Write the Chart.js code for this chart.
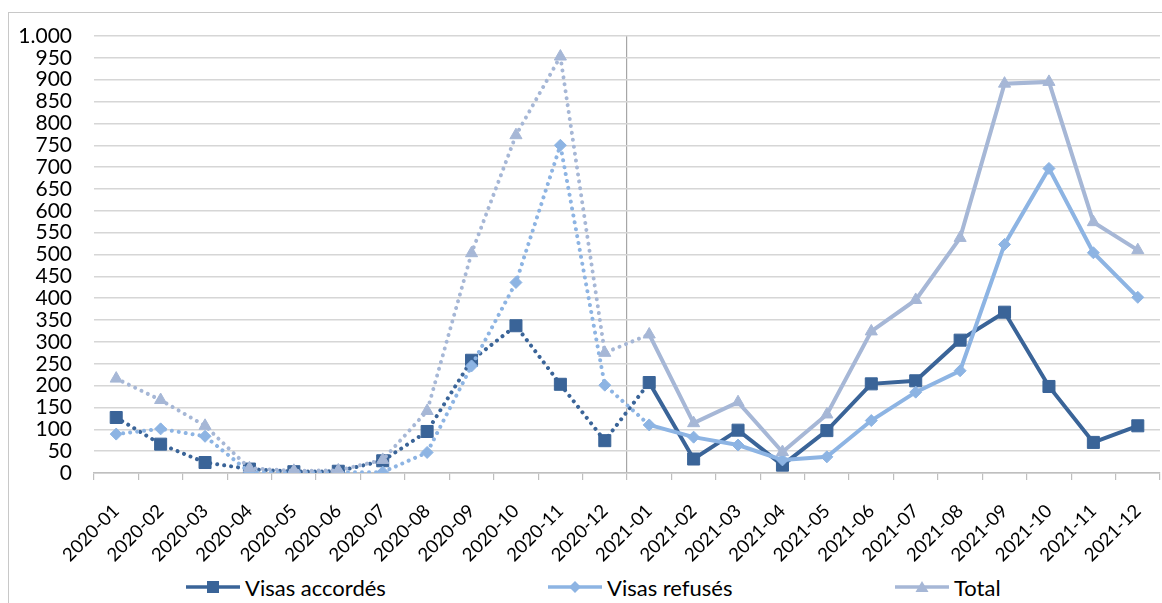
<!DOCTYPE html>
<html>
<head>
<meta charset="utf-8">
<script src="https://cdn.jsdelivr.net/npm/chart.js@4.4.1/dist/chart.umd.min.js"></script>
<style>
  body { margin: 0; width: 1162px; height: 603px; overflow: hidden; position: relative; background: #fff; font-family: Lato, "Noto Sans", sans-serif; }
  #frame { position: absolute; left: 8px; top: 12px; width: 1170px; height: 620px; border-left: 1px solid #c8c8c8; border-top: 1px solid #c8c8c8; }
  #wrap { position: absolute; left: 8px; top: 12px; width: 1154px; height: 560px; }
  .leg { position: absolute; top: 574px; height: 26px; display: flex; align-items: center; font-size: 22px; color: #000; white-space: nowrap; }
  .leg svg { margin-right: 5px; }
</style>
</head>
<body>
<div id="frame"></div>
<div id="wrap"><canvas id="visaChart"></canvas></div>
<div id="legend"></div>
<script>
// months on the x-axis
const months = ['2020-01', '2020-02', '2020-03', '2020-04', '2020-05', '2020-06',
    '2020-07', '2020-08', '2020-09', '2020-10', '2020-11', '2020-12',
    '2021-01', '2021-02', '2021-03', '2021-04', '2021-05', '2021-06',
    '2021-07', '2021-08', '2021-09', '2021-10', '2021-11', '2021-12'];

// visas granted per month
const visasAccordes = [127, 66, 24, 9, 3, 4, 28, 95, 258, 337, 203, 74,
    207, 32, 98, 18, 97, 204, 211, 304, 368, 198, 70, 108];

// visas refused per month
const visasRefuses = [89, 101, 84, 2, 2, 2, 2, 47, 245, 436, 750, 201,
    110, 82, 64, 30, 37, 120, 185, 234, 523, 697, 504, 402];

// total per month
const visasTotal = [216, 167, 108, 11, 5, 6, 30, 142, 503, 773, 953, 275,
    317, 114, 162, 48, 134, 324, 396, 538, 891, 895, 574, 510];

// series names
const seriesNames = ['Visas accordés', 'Visas refusés', 'Total'];

const dark = 'rgb(58, 100, 152)';
const light = 'rgb(141, 180, 227)';
const grey = 'rgb(166, 183, 214)';

// 2020 (and the jump into 2021-01) is dotted, 2021 is solid
const dotted = { borderDash: ctx => ctx.p0DataIndex <= 11 ? [0.01, 7] : undefined };

function makeDataset (label, data, color, style, radius, order) {
    return {
        label: label, data: data, order: order,
        borderColor: color, backgroundColor: color,
        borderWidth: 4, borderCapStyle: 'round', borderJoinStyle: 'miter',
        pointStyle: style, pointRadius: radius, pointHoverRadius: radius,
        pointBorderWidth: 1, pointBorderColor: color, pointBackgroundColor: color,
        tension: 0, segment: dotted
    };
}

const chart = new Chart('visaChart', {
    type: 'line',
    data: {
        labels: months,
        datasets: [
            makeDataset(seriesNames[0], visasAccordes, dark, 'rect', 8.5, 2),
            makeDataset(seriesNames[1], visasRefuses, light, 'rectRot', 6, 1),
            makeDataset(seriesNames[2], visasTotal, grey, 'triangle', 7, 0)
        ]
    },
    options: {
        responsive: true,
        maintainAspectRatio: false,
        animation: false,
        layout: { autoPadding: false, padding: { top: 24, right: 2, bottom: 0, left: 0 } },
        plugins: { legend: { display: false }, tooltip: { enabled: false } },
        scales: {
            x: {
                offset: true,
                afterFit: s => { s.height = 99; s.paddingLeft = 0; s.paddingRight = 0; },
                grid: {
                    offset: true,
                    drawOnChartArea: true,
                    color: ctx => ctx.index === 12 ? '#a6a6a6' : 'rgba(0,0,0,0)',
                    lineWidth: 1.2,
                    tickColor: '#bfbfbf',
                    tickLength: 7,
                    tickWidth: 1.2
                },
                border: { color: '#bfbfbf', width: 1.5 },
                ticks: {
                    minRotation: 45, maxRotation: 45, autoSkip: false,
                    color: '#000', padding: 20,
                    font: { family: 'Lato', size: 18.5 }
                }
            },
            y: {
                min: 0, max: 1000,
                afterFit: s => { s.width = 86; s.paddingTop = 0; s.paddingBottom = 0; },
                border: { display: false },
                grid: { color: '#d6d6d6', lineWidth: 1.5, drawTicks: false },
                ticks: {
                    stepSize: 50, autoSkip: false, color: '#000', padding: 22,
                    font: { family: 'Lato', size: 21 },
                    callback: v => v.toLocaleString('de-DE')
                }
            }
        }
    }
});

// legend drawn as html: line sample with marker, then series name
const legendItems = [
    { name: seriesNames[0], color: dark, marker: '<rect x="21" y="1" width="12" height="12"/>', left: 186 },
    { name: seriesNames[1], color: light, marker: '<polygon points="27,1 33,7 27,13 21,7"/>', left: 548 },
    { name: seriesNames[2], color: grey, marker: '<polygon points="27,1 33.5,12 20.5,12"/>', left: 895 }
];
const legendBox = document.getElementById('legend');
legendItems.forEach((item) => {
    const el = document.createElement('div');
    el.className = 'leg';
    el.style.left = item.left + 'px';
    el.innerHTML = '<svg width="54" height="14" fill="' + item.color + '">' +
        '<line x1="0" y1="7" x2="54" y2="7" stroke="' + item.color + '" stroke-width="3.5"/>' +
        item.marker + '</svg><span>' + item.name + '</span>';
    legendBox.appendChild(el);
});
</script>
</body>
</html>
